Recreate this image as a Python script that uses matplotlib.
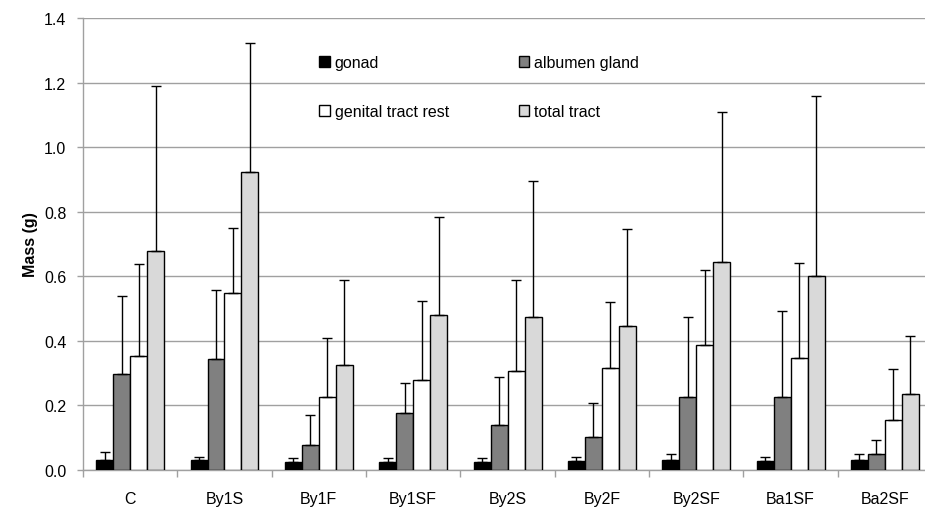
import numpy as np
import matplotlib
matplotlib.use("Agg")
import matplotlib.pyplot as plt
from matplotlib.ticker import FormatStrFormatter

plt.rcParams['font.family'] = ['Liberation Sans', 'DejaVu Sans']

# data
groups = ["C", "By1S", "By1F", "By1SF", "By2S", "By2F", "By2SF", "Ba1SF", "Ba2SF"]
series = ["gonad", "albumen gland", "genital tract rest", "total tract"]

gonad = [0.030, 0.030, 0.025, 0.025, 0.025, 0.028, 0.031, 0.027, 0.031]
gonad_top = [0.055, 0.039, 0.037, 0.037, 0.037, 0.041, 0.048, 0.041, 0.048]

albumen = [0.297, 0.345, 0.078, 0.175, 0.140, 0.102, 0.226, 0.226, 0.048]
albumen_top = [0.538, 0.559, 0.169, 0.270, 0.288, 0.206, 0.474, 0.492, 0.092]

rest = [0.353, 0.548, 0.226, 0.280, 0.308, 0.316, 0.387, 0.348, 0.154]
rest_top = [0.638, 0.750, 0.409, 0.523, 0.587, 0.519, 0.618, 0.642, 0.313]

total = [0.679, 0.923, 0.326, 0.480, 0.473, 0.445, 0.645, 0.600, 0.234]
total_top = [1.190, 1.322, 0.590, 0.783, 0.894, 0.748, 1.109, 1.158, 0.415]

values = [gonad, albumen, rest, total]
tops = [gonad_top, albumen_top, rest_top, total_top]
colors = ["#000000", "#808080", "#ffffff", "#d9d9d9"]

fs = 11.5

fig = plt.figure(figsize=(9.25, 5.1), dpi=100)
ax = fig.add_axes([0.0897, 0.0765, 0.918, 0.8862])

x = np.arange(len(groups))
w = 0.18
bars = []
for i, (vals, tp, col, name) in enumerate(zip(values, tops, colors, series)):
    vals = np.array(vals)
    err = np.array(tp) - vals
    pos = x + (i - 1.5) * w
    b = ax.bar(pos, vals, w, color=col, edgecolor="black", linewidth=1.0,
               label=name, zorder=3)
    bars.append(b)
    ax.errorbar(pos, vals, yerr=[np.zeros_like(err), err], fmt="none",
                ecolor="black", elinewidth=1.0, capsize=3.5, capthick=1.0,
                zorder=4)

ax.set_xlim(-0.5, len(groups) - 0.5)
ax.set_ylim(0, 1.4)
ax.set_yticks(np.arange(0, 1.41, 0.2))
ax.yaxis.set_major_formatter(FormatStrFormatter("%.1f"))
ax.set_xticks(x)
ax.set_xticklabels(groups)
ax.set_xticks(np.arange(-0.5, len(groups)), minor=True)
ax.tick_params(axis="x", which="major", length=0, pad=15, labelsize=fs)
ax.tick_params(axis="x", which="minor", length=5, color="#a0a0a0", width=1)
ax.tick_params(axis="y", length=4, color="#a0a0a0", width=1, pad=8, labelsize=fs)

ax.grid(axis="y", color="#a0a0a0", linewidth=1, zorder=0)
ax.set_axisbelow(True)
for s in ["top", "right"]:
    ax.spines[s].set_visible(False)
for s in ["left", "bottom"]:
    ax.spines[s].set_color("#a0a0a0")
    ax.spines[s].set_linewidth(1)

ax.set_ylabel("Mass (g)", fontweight="bold", fontsize=fs, labelpad=4)

# row-major order in the legend: gonad, albumen / rest, total
order = [0, 2, 1, 3]
leg = ax.legend([bars[k] for k in order], [series[k] for k in order],
                ncol=2, loc="upper left", bbox_to_anchor=(0.269, 0.935),
                frameon=False, fontsize=fs, handlelength=0.65,
                handleheight=0.65, handletextpad=0.3, labelspacing=2.1,
                columnspacing=4.4, borderpad=0)

fig.savefig("out.png", dpi=100)
